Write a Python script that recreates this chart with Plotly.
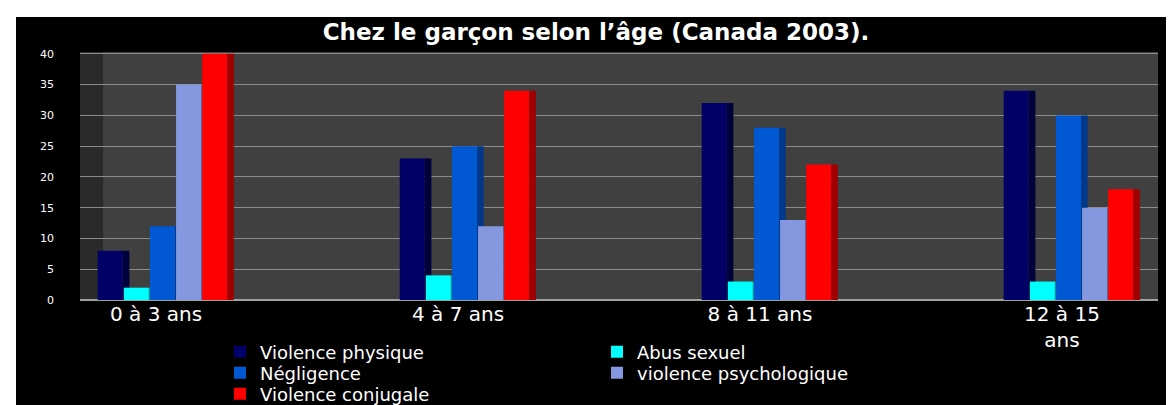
import plotly.graph_objects as go

categories = ["0 à 3 ans", "4 à 7 ans", "8 à 11 ans", "12 à 15<br>ans"]
series_names = ["Violence physique", "Abus sexuel", "Négligence",
                "violence psychologique", "Violence conjugale"]
violence_physique = [8, 23, 32, 34]
abus_sexuel = [2, 4, 3, 3]
negligence = [12, 25, 28, 30]
violence_psychologique = [35, 12, 13, 15]
violence_conjugale = [40, 34, 22, 18]
y_ticks = [0, 5, 10, 15, 20, 25, 30, 35, 40]

series_values = [violence_physique, abus_sexuel, negligence,
                 violence_psychologique, violence_conjugale]
face_colors = ["#000066", "#00FFFF", "#0058D2", "#8597DF", "#FF0000"]
side_colors = ["#00003A", "#009C9C", "#00398A", "#5A68A8", "#A00000"]
legend_rows = ["legend", "legend", "legend2", "legend2", "legend3"]

FONT = "DejaVu Sans, Liberation Sans, Arial, sans-serif"
W, H = 1174, 405
L, R, T, B = 72, 1150, 44, 292          # plot area in pixels
PW, PH = R - L, B - T

x_pos = list(range(len(categories)))
slot = 0.0865
bar_w = 0.083
side_w = 0.022

fig = go.Figure()
for i, (name, vals) in enumerate(zip(series_names, series_values)):
    off = -2.5 * slot + i * slot
    fig.add_trace(go.Bar(
        x=x_pos, y=vals, name=name, offset=off, width=bar_w,
        marker=dict(color=face_colors[i], line=dict(width=0)),
        legend=legend_rows[i], hoverinfo="skip"))
    fig.add_trace(go.Bar(
        x=x_pos, y=vals, offset=off + bar_w, width=side_w, showlegend=False,
        marker=dict(color=side_colors[i], line=dict(width=0)), hoverinfo="skip"))


def px_x(p):
    return (p - L) / PW


def px_y(p):
    return (B - p) / PH


def legend_at(ycenter):
    return dict(orientation="h", xref="container", yref="container",
                x=212 / W, xanchor="left", y=1 - ycenter / H, yanchor="middle",
                entrywidth=332, entrywidthmode="pixels",
                font=dict(family=FONT, size=18, color="white"),
                bgcolor="rgba(0,0,0,0)", borderwidth=0, traceorder="normal")


fig.update_layout(
    width=W, height=H,
    barmode="overlay",
    paper_bgcolor="black",
    plot_bgcolor="#404040",
    margin=dict(l=L, r=W - R, t=T, b=H - B, autoexpand=False),
    title=dict(text="<b>Chez le garçon selon l’âge (Canada 2003).</b>",
               xref="container", x=588 / W, xanchor="center",
               yref="container", y=1 - 24 / H, yanchor="middle",
               font=dict(family=FONT, size=23, color="white")),
    xaxis=dict(range=[-(155 - L) / 302, (R - 155) / 302], tickvals=x_pos,
               ticktext=categories, showgrid=False, zeroline=False,
               showline=False, ticks="", ticklabelshift=-7,
               tickfont=dict(family=FONT, size=20, color="white")),
    yaxis=dict(range=[0, 40.3], tickvals=y_ticks,
               gridcolor="#8C8C8C", gridwidth=1, zeroline=True,
               zerolinecolor="#A0A0A0", zerolinewidth=2, showline=False,
               ticks="", ticklabelstandoff=25,
               tickfont=dict(family=FONT, size=11, color="white")),
    legend=legend_at(344),
    legend2=legend_at(365),
    legend3=legend_at(386),
)

# left side wall of the 3D box
fig.add_shape(type="rect", xref="paper", yref="paper",
              x0=0, x1=px_x(95), y0=0, y1=1,
              fillcolor="#2A2A2A", line=dict(width=0), layer="below")
# thin white border at top and left of the slide image
fig.add_shape(type="rect", xref="paper", yref="paper",
              x0=px_x(0), x1=px_x(W), y0=px_y(9), y1=px_y(0),
              fillcolor="white", line=dict(width=0), layer="below")
fig.add_shape(type="rect", xref="paper", yref="paper",
              x0=px_x(0), x1=px_x(8), y0=px_y(H), y1=px_y(0),
              fillcolor="white", line=dict(width=0), layer="below")

fig.write_html("out.html")
